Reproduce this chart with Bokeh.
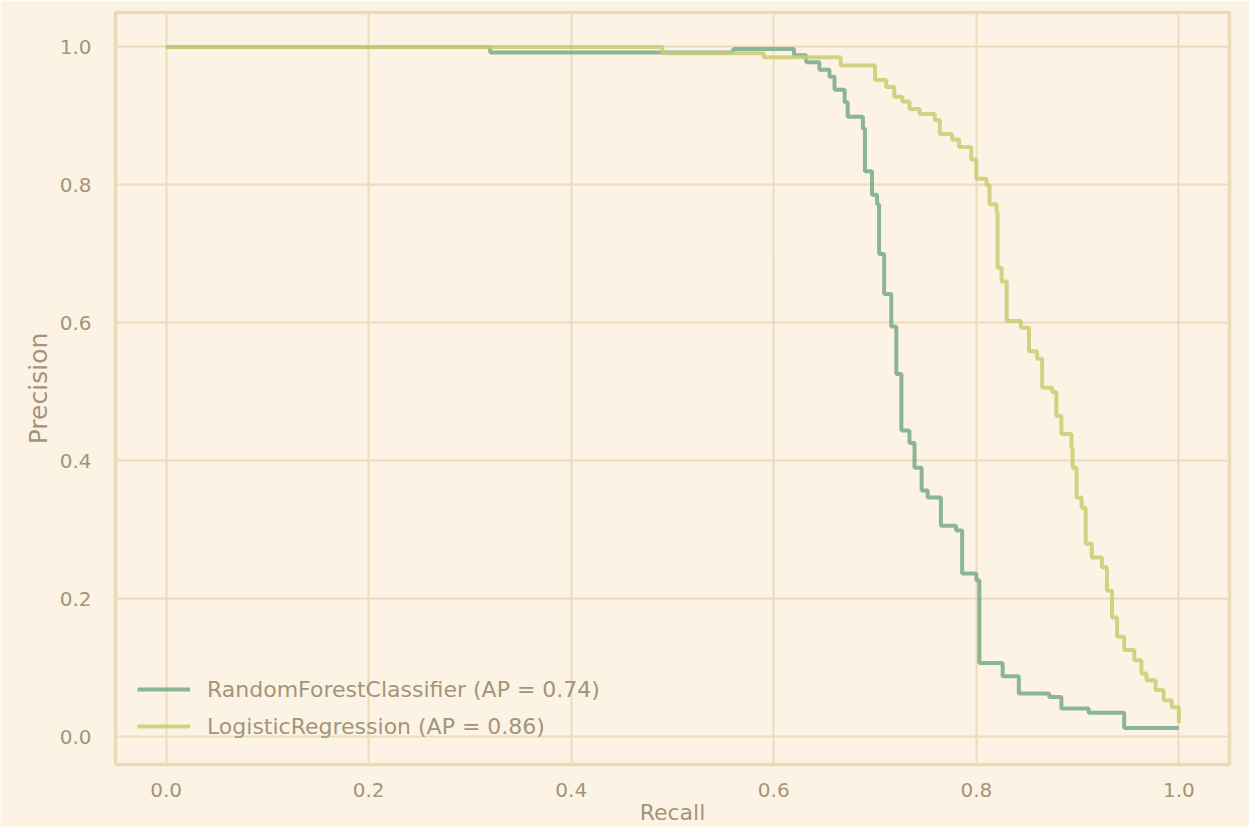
from bokeh.plotting import figure
from bokeh.models import Range1d, FixedTicker, PrintfTickFormatter
from bokeh.embed import file_html
from bokeh.resources import INLINE

# ---- data (recall, precision; step "after") ----
rf_recall = [0.0, 0.32, 0.56, 0.62, 0.632, 0.645, 0.655, 0.66, 0.67, 0.673, 0.688,
             0.69, 0.697, 0.702, 0.704, 0.709, 0.716, 0.721, 0.726, 0.734, 0.739,
             0.746, 0.752, 0.765, 0.78, 0.786, 0.80, 0.803, 0.826, 0.842, 0.872,
             0.884, 0.911, 0.946, 1.0]
rf_precision = [1.0, 0.992, 0.997, 0.988, 0.978, 0.967, 0.957, 0.938, 0.92, 0.899, 0.882,
                0.82, 0.786, 0.772, 0.70, 0.642, 0.595, 0.526, 0.444, 0.426, 0.39,
                0.357, 0.347, 0.306, 0.299, 0.237, 0.227, 0.107, 0.088, 0.063, 0.058,
                0.041, 0.035, 0.013, 0.013]

lr_recall = [0.0, 0.49, 0.59, 0.666, 0.70, 0.711, 0.719, 0.727, 0.734, 0.744, 0.759,
             0.764, 0.776, 0.783, 0.795, 0.80, 0.81, 0.813, 0.82, 0.821, 0.825,
             0.83, 0.844, 0.852, 0.86, 0.865, 0.875, 0.879, 0.884, 0.894, 0.895,
             0.899, 0.904, 0.908, 0.914, 0.924, 0.929, 0.934, 0.939, 0.946, 0.956,
             0.963, 0.968, 0.977, 0.985, 0.993, 1.0]
lr_precision = [1.0, 0.991, 0.985, 0.973, 0.952, 0.942, 0.928, 0.921, 0.91, 0.903, 0.894,
                0.874, 0.866, 0.855, 0.837, 0.809, 0.80, 0.772, 0.76, 0.68, 0.66,
                0.603, 0.593, 0.559, 0.548, 0.506, 0.50, 0.465, 0.439, 0.419, 0.39,
                0.347, 0.332, 0.28, 0.26, 0.246, 0.212, 0.173, 0.145, 0.126, 0.111,
                0.092, 0.082, 0.068, 0.053, 0.043, 0.02]

series_names = ["RandomForestClassifier (AP = 0.74)", "LogisticRegression (AP = 0.86)"]
tick_values = [0.0, 0.2, 0.4, 0.6, 0.8, 1.0]
x_title = "Recall"
y_title = "Precision"

BG = "#fdf3e4"
GRID = "#ecdcbc"
TEXT = "#a3957a"
FONT = "DejaVu Sans"

p = figure(width=1249, height=827, output_backend="svg", toolbar_location=None,
           x_range=Range1d(-0.05, 1.05), y_range=Range1d(-0.04, 1.05),
           min_border_left=115, min_border_right=20, min_border_top=12, min_border_bottom=62)

p.background_fill_color = BG
p.border_fill_color = BG
p.outline_line_color = "#ebdab8"
p.outline_line_width = 3.5

p.step(rf_recall, rf_precision, mode="after", line_color="#76a98a", line_width=4,
       line_alpha=0.85, legend_label=series_names[0])
p.step(lr_recall, lr_precision, mode="after", line_color="#c9cd72", line_width=4,
       line_alpha=0.85, legend_label=series_names[1])

for ax in (p.xaxis, p.yaxis):
    ax.ticker = FixedTicker(ticks=tick_values)
    ax.formatter = PrintfTickFormatter(format="%.1f")
    ax.axis_line_color = None
    ax.major_tick_line_color = None
    ax.minor_tick_line_color = None
    ax.major_label_text_color = TEXT
    ax.major_label_text_font = FONT
    ax.major_label_text_font_size = "20px"
    ax.axis_label_text_color = TEXT
    ax.axis_label_text_font = FONT
    ax.axis_label_text_font_size = "25px"
    ax.axis_label_text_font_style = "normal"

p.xaxis.axis_label = x_title
p.yaxis.axis_label = y_title
p.xaxis.major_label_standoff = 12
p.xaxis.axis_label_standoff = 0
p.xaxis.axis_label_text_font_size = "22px"
p.yaxis.major_label_standoff = 18
p.yaxis.axis_label_standoff = 4

p.xgrid.grid_line_color = GRID
p.ygrid.grid_line_color = GRID
p.xgrid.grid_line_width = 2
p.ygrid.grid_line_width = 2

lg = p.legend[0]
lg.location = (22, 23)
lg.background_fill_alpha = 0
lg.border_line_color = None
lg.padding = 0
lg.margin = 0
lg.spacing = 7
lg.glyph_width = 53
lg.glyph_height = 30
lg.label_height = 30
lg.label_standoff = 17
lg.label_text_font = FONT
lg.label_text_font_size = "22px"
lg.label_text_color = TEXT

open("out.html", "w").write(file_html(p, INLINE))
